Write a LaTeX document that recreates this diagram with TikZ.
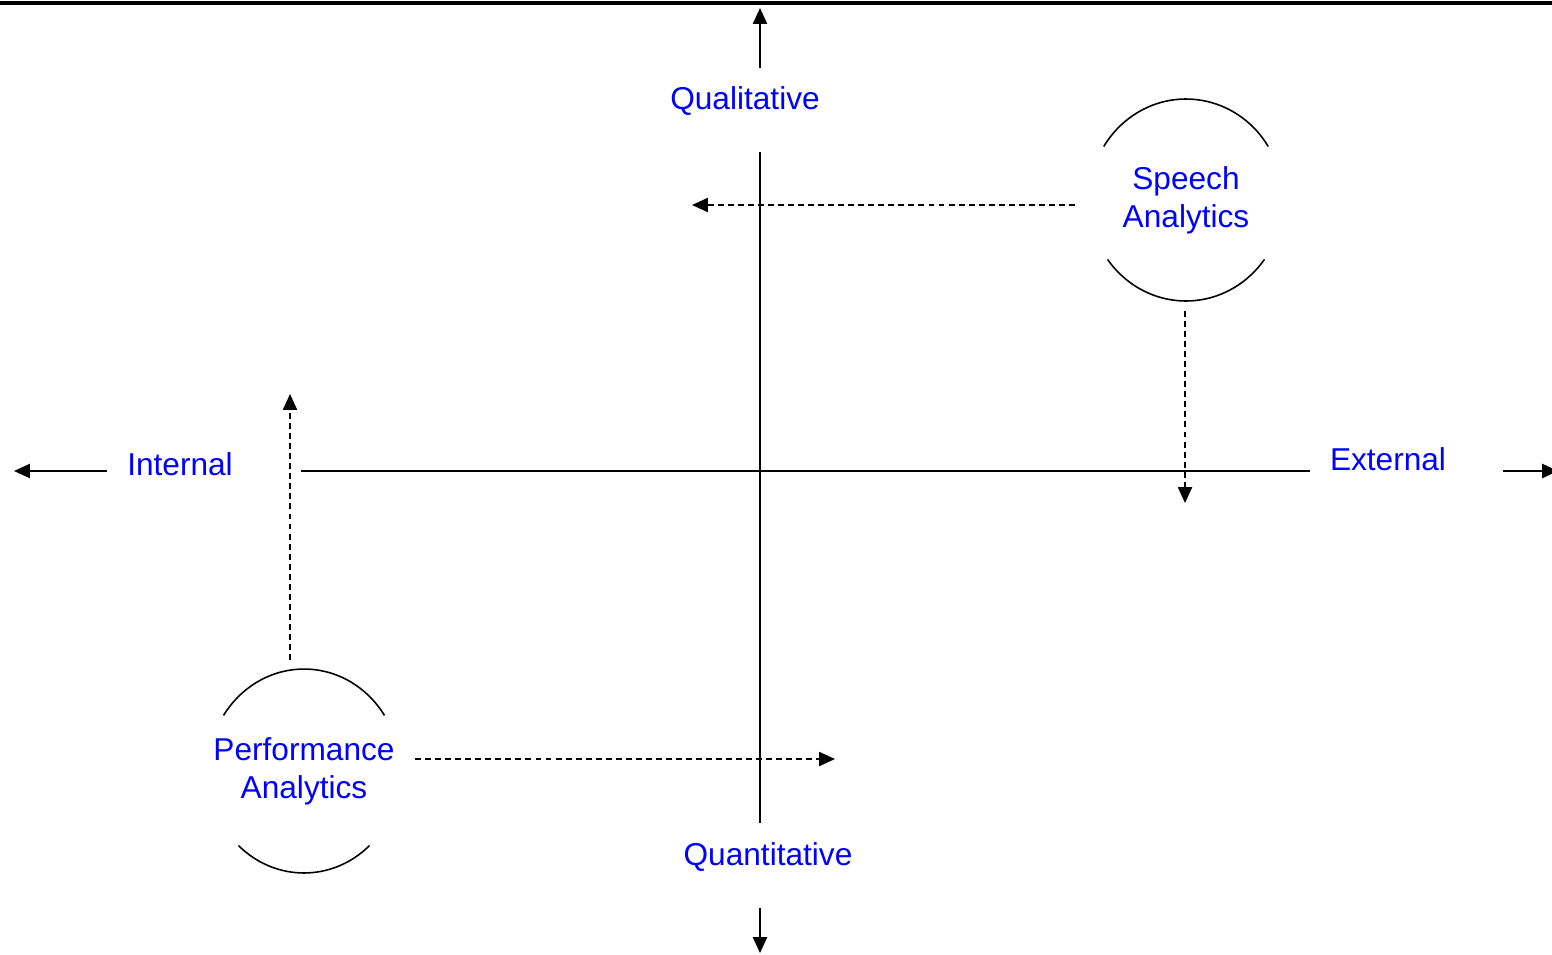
\documentclass[tikz,border=0pt]{standalone}
\usepackage{fontspec}
\setmainfont{Liberation Sans}
\usetikzlibrary{arrows.meta}
\definecolor{labelblue}{RGB}{0,0,255}
\tikzset{x=0.02cm, y=-0.02cm,
  lbl/.style={text=labelblue, font=\fontsize{18}{21.6}\selectfont, align=center, inner sep=0pt},
  field/.style={lbl, circle, minimum size=4.44cm},
  axis/.style={line width=1.1pt, -{Triangle[length=9pt,width=8pt]}},
  axisline/.style={line width=1.1pt},
  flow/.style={line width=0.9pt, dash pattern=on 3.4pt off 2.3pt, -{Triangle[length=9pt,width=8pt]}},
  rim/.style={line width=0.9pt}}

\begin{document}
\begin{tikzpicture}
  \useasboundingbox (0,0) rectangle (1552,954);
  \draw[line width=2.3pt] (0,3) -- (1552,3);

  % axis labels
  \node[lbl] (qual)  at (745,101) {Qualitative};
  \node[lbl] (quant) at (768,857) {Quantitative};
  \node[lbl] (int)   at (180,464) {Internal};
  \node[lbl] (ext)   at (1388,459) {External};

  % axes
  \coordinate (vtop) at (760,8);
  \coordinate (vhigh) at (760,68);
  \coordinate (vup) at (760,152);
  \coordinate (vdown) at (760,823);
  \coordinate (vlow) at (760,908);
  \coordinate (vbot) at (760,953);
  \coordinate (hleft) at (14,471);
  \coordinate (hl) at (107,471);
  \coordinate (hin) at (301,471);
  \coordinate (hout) at (1310,471);
  \coordinate (hr) at (1503,471);
  \coordinate (hright) at (1558,471);
  \draw[axis] (vhigh) -- (vtop);
  \draw[axisline] (vup) -- (vdown);
  \draw[axis] (vlow) -- (vbot);
  \draw[axis] (hl) -- (hleft);
  \draw[axisline] (hin) -- (hout);
  \draw[axis] (hr) -- (hright);

  % fields
  \node[field] (speech) at (1186,200) {Speech\\Analytics};
  \node[field] (perf)   at (304,771)  {Performance\\Analytics};
  \draw[rim] (speech) ++(32:1.94cm and 2.02cm) arc[start angle=32, end angle=148, x radius=1.94cm, y radius=2.02cm];
  \draw[rim] (speech) ++(216:1.94cm and 2.02cm) arc[start angle=216, end angle=324, x radius=1.94cm, y radius=2.02cm];
  \draw[rim] (perf) ++(33:1.92cm and 2.04cm) arc[start angle=33, end angle=147, x radius=1.92cm, y radius=2.04cm];
  \draw[rim] (perf) ++(227:1.92cm and 2.04cm) arc[start angle=227, end angle=313, x radius=1.92cm, y radius=2.04cm];

  % shifts
  \coordinate (qualtip) at (692,205);
  \coordinate (exttip) at (1185,503);
  \coordinate (inttip) at (290,394);
  \coordinate (quanttip) at (835,759);
  \draw[flow] (speech.west |- qualtip) -- (qualtip);
  \draw[flow] (speech.south -| exttip) -- (exttip);
  \draw[flow] (perf.north -| inttip) -- (inttip);
  \draw[flow] (perf.east |- quanttip) -- (quanttip);
\end{tikzpicture}
\end{document}
